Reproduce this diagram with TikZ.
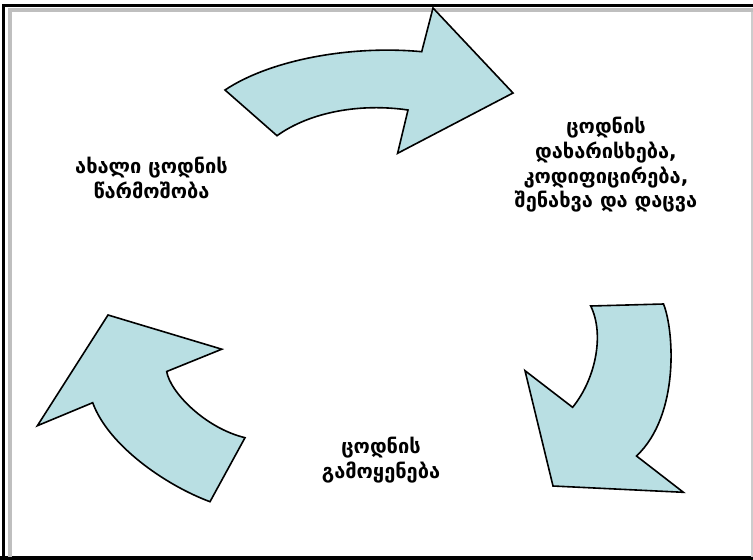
\documentclass[tikz,border=0pt]{standalone}
\usepackage{fontspec}
\setmainfont{DejaVu Sans}
\usetikzlibrary{positioning}
\definecolor{arrowfill}{HTML}{B9DFE3}

\begin{document}
\begin{tikzpicture}[x=0.75pt, y=-0.75pt, thick]

	\tikzstyle{arr}=[draw=black, fill=arrowfill, line width=1.2pt, line join=miter]
	\tikzstyle{lbl}=[align=center, text=black, font=\bfseries\fontsize{15}{18.5}\selectfont]
	\useasboundingbox (0,0) rectangle (753,560);
	% frame
	\draw[black, line width=2.6pt] (3.5,560) -- (3.5,5.5) -- (753,5.5);
	\draw[black, line width=2.6pt] (0,558) -- (753,558);
	\draw[black!25, line width=3pt] (9.5,556.5) -- (9.5,10.5) -- (753,10.5);
	\draw[black!20, line width=0.8pt] (752,12) -- (752,556.5);
	% top arrow
	\draw[arr] (225,90) .. controls (270,60) and (350,45) .. (421.7,51.7) -- (433,8) -- (513,93)
		-- (397.6,153.3) -- (408,110) .. controls (360,103) and (310,112) .. (277,135.7) -- cycle;
	% right arrow
	\draw[arr] (590.7,306) -- (663.5,304) .. controls (674,330) and (680,415) .. (636.5,456)
		-- (683.4,492.3) -- (553,486) -- (525,370.7) -- (572.6,407.3)
		.. controls (595,380) and (605,335) .. cycle;
	% left arrow
	\draw[arr] (108,315) -- (221.8,349.2) -- (166.7,371.5) .. controls (170,392) and (205,428) .. (245,437.7)
		-- (210,501.7) .. controls (165,485) and (108,445) .. (92.7,402.7) -- (37.4,425.7) -- cycle;
	% labels
	\node[lbl] (origin) at (151.5,178) {ახალი ცოდნის\\წარმოშობა};
	\node[lbl] (store) at (606,165) {ცოდნის\\დახარისხება,\\კოდიფიცირება,\\შენახვა და დაცვა};
	\node[lbl] (use) at (381,460) {ცოდნის\\გამოყენება};

\end{tikzpicture}
\end{document}
